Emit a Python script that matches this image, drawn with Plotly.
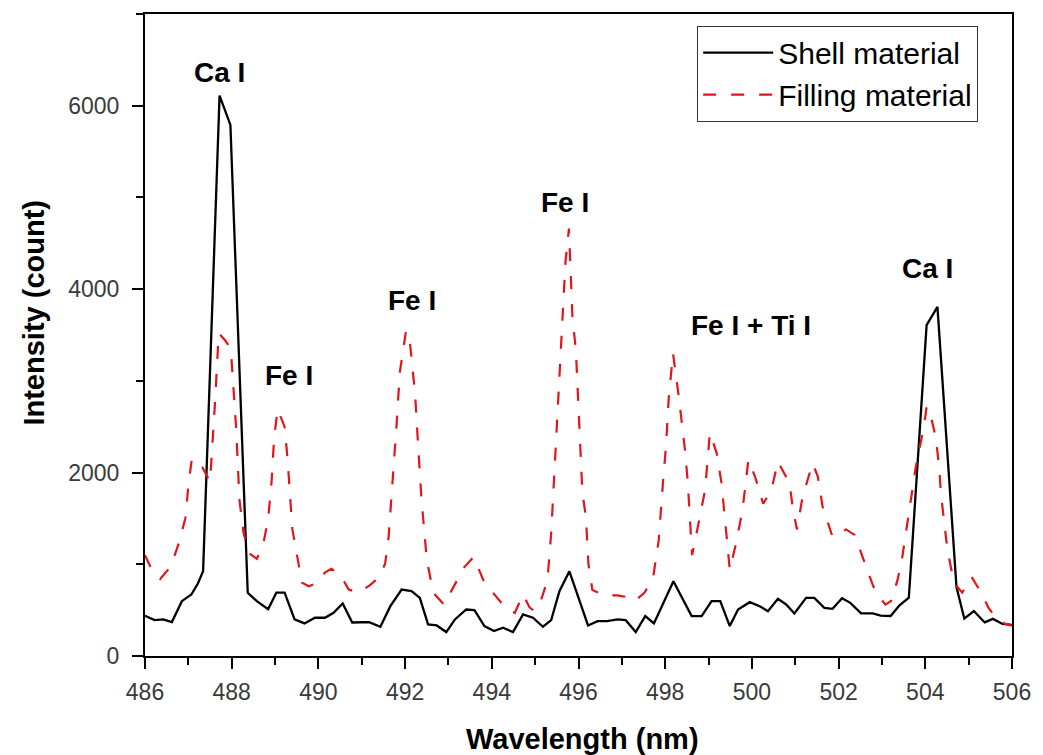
import plotly.graph_objects as go

# Shell material spectrum (solid black)
shell_wl = [486.00, 486.22, 486.42, 486.62, 486.85, 487.07, 487.22, 487.34, 487.72, 487.97,
            488.37, 488.58, 488.84, 489.03, 489.22, 489.45, 489.68, 489.92, 490.15, 490.35,
            490.56, 490.78, 491.00, 491.17, 491.43, 491.66, 491.92, 492.15, 492.34, 492.53,
            492.73, 492.95, 493.15, 493.41, 493.60, 493.83, 494.05, 494.26, 494.49, 494.72,
            494.95, 495.18, 495.37, 495.56, 495.79, 496.02, 496.22, 496.44, 496.66, 496.90,
            497.09, 497.32, 497.54, 497.74, 498.19, 498.61, 498.84, 499.07, 499.27, 499.49,
            499.68, 499.95, 500.18, 500.37, 500.60, 500.79, 500.98, 501.25, 501.44, 501.67,
            501.86, 502.08, 502.27, 502.52, 502.79, 502.97, 503.20, 503.40, 503.62, 504.03,
            504.28, 504.72, 504.90, 505.12, 505.37, 505.56, 505.78, 506.00]
shell_int = [438, 391, 399, 370, 598, 670, 790, 924, 6110, 5790,
             690, 598, 510, 690, 690, 399, 355, 417, 417, 471,
             572, 365, 368, 370, 319, 543, 725, 707, 634, 344,
             333, 261, 399, 507, 500, 326, 272, 308, 261, 453,
             417, 319, 391, 707, 924, 616, 333, 380, 380, 399,
             391, 261, 435, 355, 815, 435, 435, 598, 598, 326,
             507, 587, 543, 489, 623, 562, 464, 634, 634, 525,
             514, 630, 580, 466, 464, 440, 436, 550, 636, 3607,
             3806, 750, 408, 490, 366, 405, 350, 340]

# Filling material spectrum (dashed red)
fill_wl = [486.00, 486.12, 486.35, 486.60, 486.78, 486.93, 487.00, 487.08, 487.32, 487.50,
           487.62, 487.70, 487.85, 487.98, 488.10, 488.18, 488.27, 488.40, 488.58, 488.72,
           488.84, 488.92, 488.98, 489.06, 489.22, 489.29, 489.40, 489.50, 489.62, 489.78,
           489.98, 490.15, 490.30, 490.50, 490.70, 490.92, 491.20, 491.42, 491.54, 491.62,
           491.70, 491.80, 491.88, 492.02, 492.09, 492.16, 492.23, 492.30, 492.38, 492.50,
           492.65, 492.90, 493.12, 493.35, 493.58, 493.83, 494.03, 494.22, 494.40, 494.53,
           494.72, 494.87, 494.98, 495.14, 495.24, 495.30, 495.37, 495.44, 495.52, 495.60,
           495.70, 495.78, 495.86, 495.94, 496.02, 496.09, 496.17, 496.23, 496.32, 496.60,
           496.90, 497.15, 497.30, 497.52, 497.72, 497.85, 497.95, 498.02, 498.08, 498.18,
           498.31, 498.39, 498.46, 498.52, 498.56, 498.62, 498.80, 498.92, 499.03, 499.19,
           499.30, 499.42, 499.49, 499.62, 499.78, 499.92, 500.07, 500.26, 500.45, 500.60,
           500.87, 500.95, 501.04, 501.17, 501.40, 501.52, 501.63, 501.86, 502.17, 502.37,
           502.55, 502.65, 502.80, 502.90, 503.08, 503.21, 503.36, 503.46, 503.57, 503.64,
           503.78, 503.89, 503.97, 504.03, 504.12, 504.24, 504.32, 504.36, 504.43, 504.51,
           504.66, 504.85, 505.07, 505.25, 505.46, 505.65, 505.85, 506.00]
fill_int = [1100, 980, 840, 980, 1230, 1500, 1850, 2150, 2060, 1900,
            2800, 3520, 3440, 3350, 2500, 1700, 1350, 1120, 1060, 1200,
            1490, 1900, 2390, 2690, 2500, 2140, 1380, 1100, 800, 760,
            800, 910, 950, 890, 725, 690, 775, 870, 1010, 1300,
            1800, 2500, 3100, 3540, 3520, 3220, 2860, 2300, 1700, 1050,
            690, 560, 760, 960, 1080, 800, 688, 580, 500, 470,
            670, 530, 490, 616, 760, 920, 1340, 2000, 2750, 3500,
            4300, 4660, 3700, 3330, 2430, 1780, 1520, 1000, 720, 660,
            660, 640, 600, 690, 850, 1260, 1900, 2300, 2800, 3300,
            2840, 2530, 2230, 1900, 1590, 1100, 1520, 1810, 2430, 2210,
            1880, 1300, 940, 1200, 1580, 2140, 1960, 1660, 1810, 2120,
            1880, 1590, 1380, 1740, 2100, 1960, 1630, 1300, 1380, 1320,
            1080, 970, 760, 670, 560, 600, 830, 1050, 1410, 1630,
            2060, 2320, 2500, 2720, 2630, 2390, 2060, 1770, 1480, 1160,
            800, 690, 860, 720, 525, 400, 350, 330]

# Emission line labels: (text, wavelength, intensity)
line_labels = ["Ca I", "Fe I", "Fe I", "Fe I", "Fe I + Ti I", "Ca I"]
label_wl = [487.72, 489.33, 492.17, 495.70, 499.97, 504.05]
label_int = [6360, 3060, 3880, 4950, 3600, 4230]

FONT = "Liberation Sans, Arial, sans-serif"

fig = go.Figure()
fig.add_trace(go.Scatter(
    x=shell_wl, y=shell_int, mode="lines", name="Shell material",
    line=dict(color="black", width=2.3),
))
fig.add_trace(go.Scatter(
    x=fill_wl, y=fill_int, mode="lines", name="Filling material",
    line=dict(color="#e3141b", width=2.2, dash="13px,15px"),
))

for txt, lx, ly in zip(line_labels, label_wl, label_int):
    fig.add_annotation(x=lx, y=ly, xref="x", yref="y", text=f"<b>{txt}</b>",
                       showarrow=False, font=dict(family=FONT, size=28, color="black"),
                       xanchor="center", yanchor="middle")

# Axis titles
fig.add_annotation(x=0.505, y=-0.13, xref="paper", yref="paper",
                   text="<b>Wavelength (nm)</b>", showarrow=False,
                   font=dict(family=FONT, size=29, color="black"),
                   xanchor="center", yanchor="middle")
fig.add_annotation(x=-0.128, y=0.535, xref="paper", yref="paper",
                   text="<b>Intensity (count)</b>", showarrow=False, textangle=-90,
                   font=dict(family=FONT, size=29, color="black"),
                   xanchor="center", yanchor="middle")

axis_common = dict(
    showline=True, linecolor="black", linewidth=2, mirror=True,
    showgrid=False, zeroline=False,
    ticks="outside", ticklen=11, tickwidth=2, tickcolor="black",
    tickfont=dict(family=FONT, size=23, color="#3a3a3a"),
)

fig.update_xaxes(range=[486, 506], tick0=486, dtick=2, ticklabelstandoff=3,
                 minor=dict(ticks="outside", ticklen=7, tickwidth=2, tickcolor="black", dtick=1),
                 **axis_common)
fig.update_yaxes(range=[0, 7000], tick0=0, dtick=2000, ticklabelstandoff=8,
                 minor=dict(ticks="outside", ticklen=7, tickwidth=2, tickcolor="black", dtick=1000),
                 **axis_common)

fig.update_layout(
    width=1043, height=755,
    margin=dict(l=145, r=25, t=12, b=99, pad=0),
    paper_bgcolor="white", plot_bgcolor="white",
    showlegend=True,
    legend=dict(
        x=0.961, y=0.982, xanchor="right", yanchor="top",
        bgcolor="white", bordercolor="#333333", borderwidth=1,
        font=dict(family=FONT, size=30, color="black"),
        itemwidth=70, tracegroupgap=0,
    ),
)

fig.write_html("out.html")
